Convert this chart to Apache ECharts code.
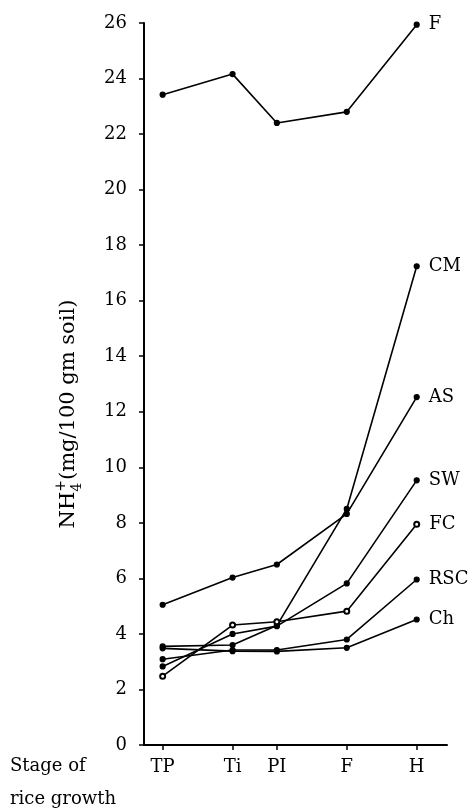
<!DOCTYPE html>
<html>
<head>
<meta charset="utf-8">
<script src="https://cdn.jsdelivr.net/npm/echarts@6/dist/echarts.min.js"></script>
<style>html,body{margin:0;padding:0;background:#fff;}#c{width:473px;height:812px;}</style>
</head>
<body>
<div id="c"></div>
<script>
// Stage of rice growth and relative position along the season
const stages = ['TP', 'Ti', 'PI', 'F', 'H'];
const stagePos = [0, 30, 49, 79, 109];
const yTicks = [0, 2, 4, 6, 8, 10, 12, 14, 16, 18, 20, 22, 24, 26];

// NH4+ (mg/100 gm soil) per treatment
const seriesNames = ['F', 'CM', 'AS', 'SW', 'FC', 'RSC', 'Ch'];
const valF   = [23.42, 24.16, 22.40, 22.80, 25.94];
const valCM  = [3.55, 3.60, 4.30, 8.50, 17.24];
const valAS  = [5.05, 6.03, 6.50, 8.32, 12.53];
const valSW  = [2.83, 4.00, 4.28, 5.82, 9.53];
const valFC  = [2.48, 4.32, 4.44, 4.82, 7.95];
const valRSC = [3.09, 3.42, 3.42, 3.80, 5.96];
const valCh  = [3.48, 3.38, 3.37, 3.50, 4.52];
const allVals = [valF, valCM, valAS, valSW, valFC, valRSC, valCh];
const symbols = ['circle', 'circle', 'circle', 'circle', 'emptyCircle', 'circle', 'circle'];

const FONT = 'DejaVu Serif';
const chart = echarts.init(document.getElementById('c'), null, {renderer: 'canvas'});

const series = seriesNames.map((name, si) => ({
  name: name,
  type: 'line',
  symbol: symbols[si],
  symbolSize: 5,
  showSymbol: true,
  lineStyle: {color: '#000', width: 1.6},
  itemStyle: {color: '#000', borderColor: '#000', borderWidth: 1.2},
  emphasis: {disabled: true},
  data: allVals[si].map((v, i) => {
    const item = {value: [stagePos[i], v]};
    if (i === stagePos.length - 1) {
      item.label = {show: true, position: 'right', distance: 9, formatter: name,
        fontFamily: FONT, fontSize: 18, color: '#000'};
    }
    return item;
  })
}));

chart.setOption({
  animation: false,
  backgroundColor: '#fff',
  grid: {left: 144, right: 26, top: 23, bottom: 67, containLabel: false},
  xAxis: {
    type: 'value', min: -8, max: 122,
    axisLine: {show: true, onZero: false, lineStyle: {color: '#000', width: 2}},
    axisTick: {show: true, inside: false, length: 5, lineStyle: {color: '#000', width: 1.5}, customValues: stagePos},
    axisLabel: {show: true, customValues: stagePos, margin: 13,
      formatter: v => { const k = stagePos.indexOf(v); return k >= 0 ? stages[k] : ''; },
      fontFamily: FONT, fontSize: 18, color: '#000'},
    splitLine: {show: false}
  },
  yAxis: {
    type: 'value', min: 0, max: 26, interval: 2,
    name: '{a|NH}{sub|4}{sup|+}{a|(mg/100 gm soil)}',
    nameLocation: 'middle', nameGap: 60, nameRotate: 90,
    nameTextStyle: {padding: [0, 60, 0, 0],
      rich: {
        a: {fontFamily: FONT, fontSize: 21, color: '#000', lineHeight: 30},
        sub: {fontFamily: FONT, fontSize: 14, color: '#000', verticalAlign: 'bottom', lineHeight: 30},
        sup: {fontFamily: FONT, fontSize: 14, color: '#000', verticalAlign: 'top', lineHeight: 30, padding: [0, 0, 0, -9]}
      }},
    axisLine: {show: true, onZero: false, lineStyle: {color: '#000', width: 2}},
    axisTick: {show: true, length: 5, lineStyle: {color: '#000', width: 1.5}},
    axisLabel: {margin: 17, fontFamily: FONT, fontSize: 18, color: '#000',
      customValues: yTicks},
    splitLine: {show: false}
  },
  graphic: [
    {type: 'text', left: 10, top: 757, style: {text: 'Stage of', font: '18px "DejaVu Serif"', fill: '#000'}},
    {type: 'text', left: 10, top: 790, style: {text: 'rice growth', font: '18px "DejaVu Serif"', fill: '#000'}}
  ],
  series: series
});
</script>
</body>
</html>
